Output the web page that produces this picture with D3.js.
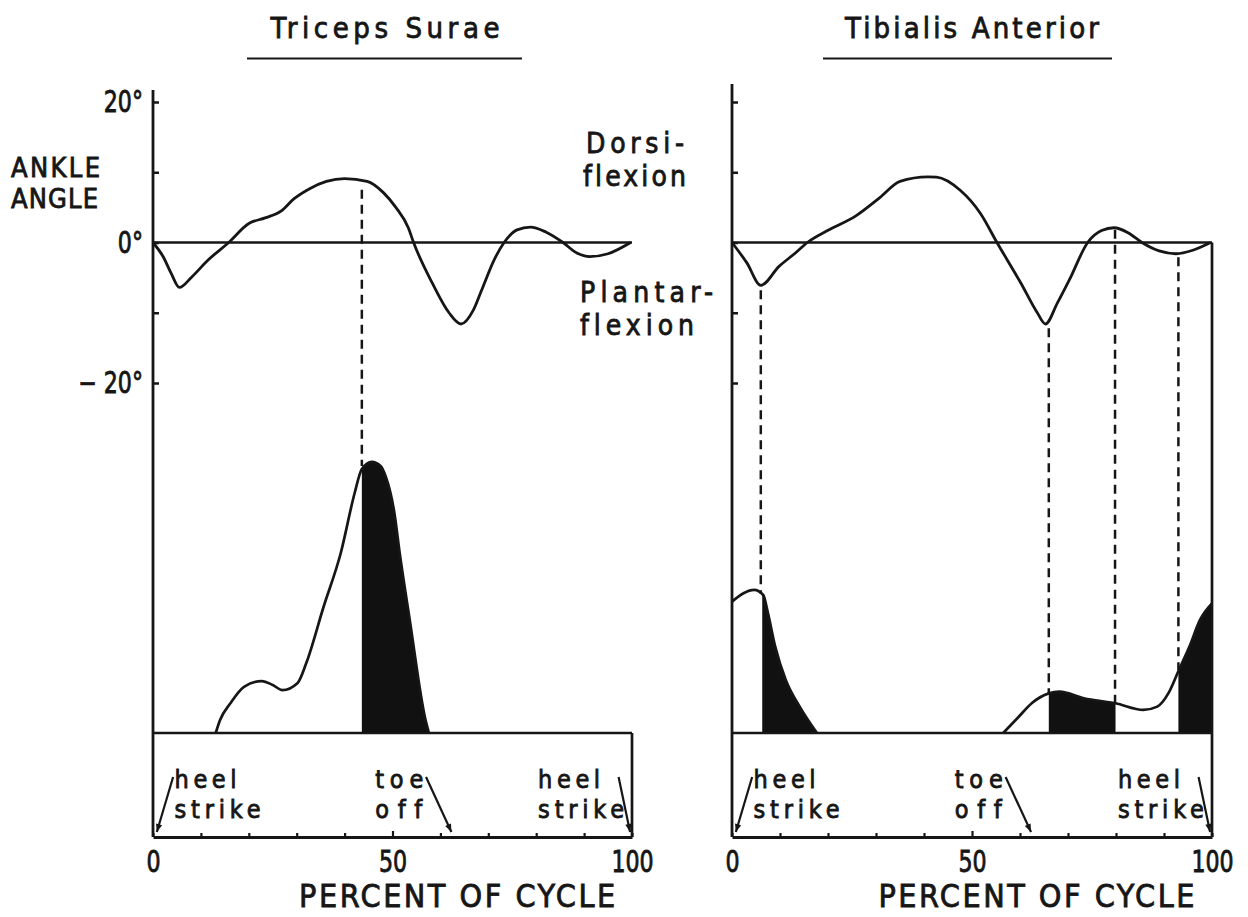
<!DOCTYPE html>
<html>
<head>
<meta charset="utf-8">
<script src="https://cdn.jsdelivr.net/npm/d3@7"></script>
<style>
  body { margin: 0; background: #fff; }
  svg { display: block; }
  text {
    font-family: "DejaVu Sans Condensed", "DejaVu Sans", sans-serif;
    fill: #161616;
    stroke: #161616;
    stroke-width: 0.8px;
    font-variant-ligatures: none;
    font-feature-settings: "liga" 0;
  }
</style>
</head>
<body>
<div id="chart"></div>
<script>
const width = 1248;
const height = 917;
const ink = "#161616";

// ---- data ----
const muscles = ["Triceps Surae", "Tibialis Anterior"];
const angleTicks = [-20, -10, 0, 10, 20];
const labelledAngles = [20, 0, -20];
const percentTicks = [0, 50, 100];
const minorPercentTicks = [0, 10, 20, 30, 40, 50, 60, 70, 80, 90, 100];

// ankle angle (degrees) vs percent of gait cycle
const tricepsAngle = [
    [0, 0], [2.1, -2], [3.8, -4.4], [5.5, -6.4], [8.1, -4.9], [11.5, -2.5], [15.8, 0],
    [20, 2.7], [23.4, 3.5], [26.8, 4.5], [29.4, 6.2], [32.8, 7.7], [36.2, 8.7], [40, 9.1],
    [44.7, 8.7], [48.1, 7.1], [50.7, 5], [53.3, 2.1], [54.4, 0], [58.4, -5.9], [61.8, -10],
    [64.3, -11.6], [66.9, -9.6], [68.6, -6.8], [71.2, -2.5], [73.3, 0], [76, 1.8], [78.8, 2.2],
    [82, 1.5], [85.6, 0], [88.5, -1.5], [91.2, -2], [95, -1.6], [99.7, 0]
];
const tibialisAngle = [
    [0, 0], [3.1, -2.9], [6, -6.1], [9.8, -3.4], [13.2, -1.5], [15.7, 0], [19.9, 1.7],
    [25.8, 3.8], [30.8, 6.4], [35, 8.7], [40.8, 9.35], [42.6, 9.3], [47.6, 7.4], [51.8, 4.1],
    [55.2, 0], [60.2, -5.8], [63.6, -10], [65.3, -11.6], [67.8, -8.6], [70.3, -5.3], [74.1, 0],
    [77, 1.7], [79.6, 2.1], [82.5, 1.4], [85.4, 0], [89, -1.2], [92.5, -1.6], [96, -1.1], [99.7, 0]
];

// EMG envelope (relative units) vs percent of cycle
const tricepsEmg = [
    [13.1, 0], [14, 4.3], [16.2, 10], [19, 15.4], [22.7, 17.3], [25, 16], [27, 14.3],
    [30.2, 16.7], [32, 23.3], [35.6, 42], [39.2, 60], [42.1, 80], [43.6, 88], [45.7, 90.4],
    [47.5, 89], [48.6, 85.4], [50.4, 73.3], [51.5, 60], [53.6, 37.7], [56.9, 4.3], [57.6, 0]
];
const tibialisEmgStance = [
    [0, 43.8], [2.4, 46.6], [4.6, 47.7], [6.5, 46], [7.5, 39.9], [9, 28.8], [11.2, 17.7],
    [14.1, 8.8], [17.7, 0]
];
const tibialisEmgSwing = [
    [56.5, 0], [59.5, 5], [62.5, 10], [66, 13.2], [68.2, 13.8], [73.3, 11.6], [79.9, 9.9],
    [85.7, 7.7], [88.6, 8.8], [90.9, 13.2], [93.1, 21], [95.3, 28.8], [97.5, 37.7], [100, 43.2]
];

// shaded (active) spans, percent of cycle
const tricepsActive = [[43.6, 60]];
const tibialisActive = [[6.3, 20], [66, 79.9], [93, 100]];

// dashed guides: percent, angle where it starts, EMG level where it ends
const tricepsMarks = [[43.6, 7.5, 89]];
const tibialisMarks = [[6, -6.8, 46.3], [66, -12.2, 13.3], [79.8, 1.8, 10], [93, -2.1, 21]];

// gait events
const eventNames = [["heel", "strike"], ["toe", "off"], ["heel", "strike"]];
const eventPercents = [0, 62, 100];

// ---- layout ----
const yA = d3.scaleLinear().domain([-20, 20]).range([383, 102]);
const yE = d3.scaleLinear().domain([0, 100]).range([733, 433]);
const boxBottom = 837;

const panels = [
    {
        title: muscles[0], titleX: 385, titleW: 229, rule: [247, 522],
        x0: 153, x1: 632, axisTop: 90, labels: true, edgeFromZero: false,
        angle: tricepsAngle, emg: [tricepsEmg], active: tricepsActive, marks: tricepsMarks
    },
    {
        title: muscles[1], titleX: 972, titleW: 254, rule: [823, 1112],
        x0: 732, x1: 1212, axisTop: 84, labels: false, edgeFromZero: true,
        angle: tibialisAngle, emg: [tibialisEmgStance, tibialisEmgSwing], active: tibialisActive, marks: tibialisMarks
    }
];

// where each event's words sit and where its arrow runs (percent of cycle)
const eventText = [4.5, 46.4, 80.4];
const eventArrows = [[4.2, 0.8], [57, 62.3], [97.2, 99.6]];
const wordWidths = { heel: 62, strike: 86, toe: 48, off: 47 };

const fit = (sel, target) => sel.each(function () {
    const natural = this.getComputedTextLength();
    d3.select(this)
        .attr("textLength", target)
        .attr("lengthAdjust", natural < target ? "spacing" : "spacingAndGlyphs");
});

const squeeze = (sel, k) => sel.each(function () {
    const natural = this.getComputedTextLength();
    if (natural > 0) {
        d3.select(this).attr("textLength", natural * k).attr("lengthAdjust", "spacingAndGlyphs");
    }
});

const addText = (parent, str, x, y, size, target, anchor = "start") => {
    const t = parent.append("text")
        .attr("x", x)
        .attr("y", y)
        .attr("font-size", size)
        .attr("text-anchor", anchor)
        .text(str);
    if (target) fit(t, target);
    return t;
};

const svg = d3.select("#chart")
    .append("svg")
    .attr("width", width)
    .attr("height", height)
    .attr("viewBox", `0 0 ${width} ${height}`);

svg.append("rect").attr("width", width).attr("height", height).attr("fill", "#fff");

const defs = svg.append("defs");
defs.append("marker")
    .attr("id", "arrow")
    .attr("viewBox", "0 0 10 10")
    .attr("refX", 10)
    .attr("refY", 5)
    .attr("markerUnits", "userSpaceOnUse")
    .attr("markerWidth", 11)
    .attr("markerHeight", 8)
    .attr("orient", "auto")
    .append("path")
    .attr("d", "M0,1L10,5L0,9Z")
    .attr("fill", ink);

const stroke = (sel, w = 2.6) => sel.attr("stroke", ink).attr("stroke-width", w).attr("fill", "none");

const drawPanel = (p, i) => {
    const x = d3.scaleLinear().domain([0, 100]).range([p.x0, p.x1]);
    const g = svg.append("g").attr("class", `panel panel-${i}`);

    // title + underline
    addText(g, p.title, p.titleX, 38, 29, p.titleW, "middle");
    g.append("line")
        .attr("x1", p.rule[0]).attr("x2", p.rule[1])
        .attr("y1", 58.5).attr("y2", 58.5)
        .call(stroke, 2.2);

    // shaded EMG activity
    defs.append("clipPath")
        .attr("id", `active-${i}`)
        .selectAll("rect")
        .data(p.active)
        .join("rect")
        .attr("x", d => x(d[0]))
        .attr("width", d => x(d[1]) - x(d[0]))
        .attr("y", 0)
        .attr("height", yE(0));

    const area = d3.area()
        .x(d => x(d[0]))
        .y0(yE(0))
        .y1(d => yE(d[1]))
        .curve(d3.curveMonotoneX);

    g.append("g")
        .attr("clip-path", `url(#active-${i})`)
        .selectAll("path")
        .data(p.emg)
        .join("path")
        .attr("d", area)
        .attr("fill", "#111");

    const emgLine = d3.line()
        .x(d => x(d[0]))
        .y(d => yE(d[1]))
        .curve(d3.curveMonotoneX);

    g.selectAll(".emg")
        .data(p.emg)
        .join("path")
        .attr("class", "emg")
        .attr("d", emgLine)
        .call(stroke, 2.7);

    // angle axis (ticks point inward)
    const axis = g.append("g")
        .attr("transform", `translate(${p.x0},0)`)
        .call(d3.axisLeft(yA)
            .tickValues(angleTicks)
            .tickSize(-6)
            .tickSizeOuter(0)
            .tickPadding(10)
            .tickFormat(d => p.labels && labelledAngles.includes(d)
                ? (d < 0 ? `\u2212 ${-d}\u00b0` : `${d}\u00b0`)
                : ""));
    axis.select(".domain").remove();
    axis.selectAll("line").attr("stroke", ink).attr("stroke-width", 2.5);
    axis.attr("font-size", 30);
    axis.selectAll("text").attr("fill", ink).call(squeeze, 0.82);

    g.append("line")
        .attr("x1", p.x0).attr("x2", p.x0)
        .attr("y1", p.axisTop).attr("y2", boxBottom)
        .call(stroke, 2.8);

    // zero line
    g.append("line")
        .attr("x1", x(0)).attr("x2", x(100))
        .attr("y1", yA(0)).attr("y2", yA(0))
        .call(stroke, 2.5);

    // right edge
    g.append("line")
        .attr("x1", x(100)).attr("x2", x(100))
        .attr("y1", p.edgeFromZero ? yA(0) : yE(0)).attr("y2", boxBottom)
        .call(stroke, 2.7);

    // EMG baseline / top of the event box
    g.append("line")
        .attr("x1", x(0)).attr("x2", x(100))
        .attr("y1", yE(0)).attr("y2", yE(0))
        .call(stroke, 2.7);

    // ankle angle curve
    const angleLine = d3.line()
        .x(d => x(d[0]))
        .y(d => yA(d[1]))
        .curve(d3.curveMonotoneX);

    g.append("path")
        .datum(p.angle)
        .attr("d", angleLine)
        .call(stroke, 2.8);

    // dashed guides
    g.selectAll(".mark")
        .data(p.marks)
        .join("line")
        .attr("class", "mark")
        .attr("x1", d => x(d[0])).attr("x2", d => x(d[0]))
        .attr("y1", d => yA(d[1])).attr("y2", d => yE(d[2]))
        .attr("stroke-dasharray", "9,6")
        .call(stroke, 2.5);

    // bottom of the box with minor ticks
    const minor = g.append("g")
        .attr("transform", `translate(0,${boxBottom})`)
        .call(d3.axisTop(x)
            .tickValues(minorPercentTicks)
            .tickSize(4)
            .tickSizeOuter(0)
            .tickFormat(""));
    minor.select(".domain").attr("stroke", ink).attr("stroke-width", 2.8);
    minor.selectAll("line").attr("stroke", ink).attr("stroke-width", 2.2)
        .filter(d => d === 50).attr("y2", -6);

    const major = g.append("g")
        .attr("transform", `translate(0,${boxBottom})`)
        .call(d3.axisBottom(x)
            .tickValues(percentTicks)
            .tickSize(0)
            .tickPadding(14)
            .tickFormat(d3.format("d")));
    major.select(".domain").remove();
    major.attr("font-size", 30);
    major.selectAll("text").attr("fill", ink).call(squeeze, 0.82);

    addText(g, "PERCENT OF CYCLE", x(30.5), 907, 32, 316);

    // gait events
    eventNames.forEach((words, k) => {
        addText(g, words[0], x(eventText[k]), 788, 25, wordWidths[words[0]]);
        addText(g, words[1], x(eventText[k]), 818, 25, wordWidths[words[1]]);
        g.append("line")
            .attr("x1", x(eventArrows[k][0])).attr("y1", 777)
            .attr("x2", x(eventArrows[k][1])).attr("y2", 832)
            .attr("marker-end", "url(#arrow)")
            .call(stroke, 2.2);
    });
};

panels.forEach(drawPanel);

// shared labels
addText(svg, "ANKLE", 11, 177, 27, 89);
addText(svg, "ANGLE", 11, 208, 27, 87);
addText(svg, "Dorsi-", 586, 153, 28, 98);
addText(svg, "flexion", 583, 186, 28, 103);
addText(svg, "Plantar-", 580, 302, 28, 133);
addText(svg, "flexion", 580, 335, 28, 114);
</script>
</body>
</html>
